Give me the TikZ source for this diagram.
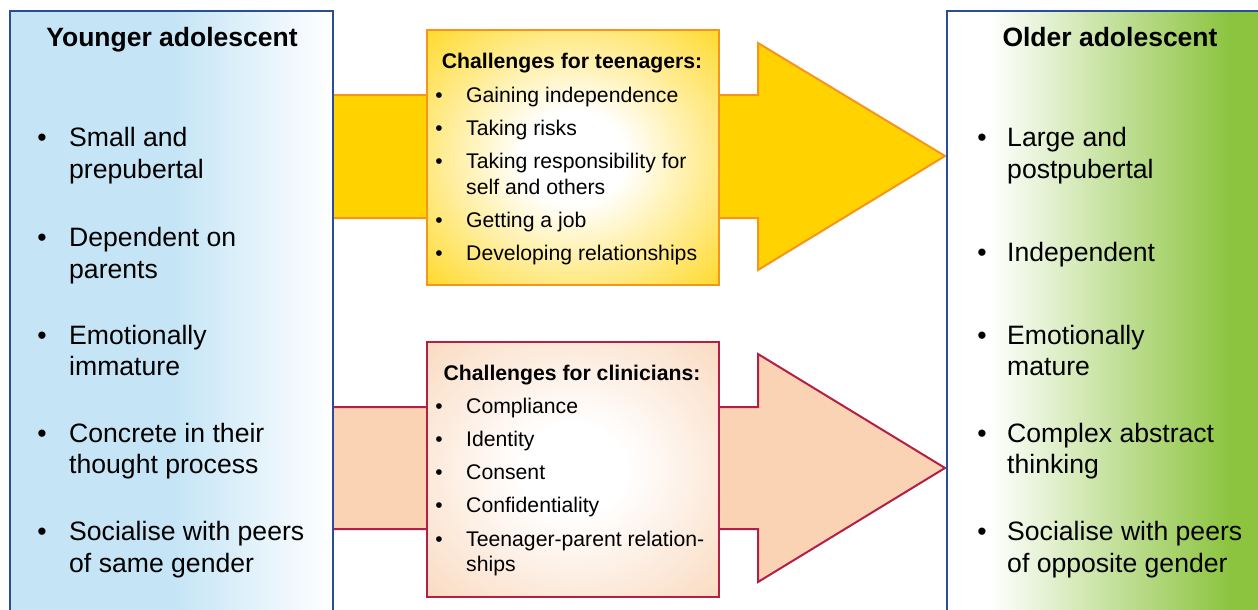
\documentclass[tikz,border=0pt]{standalone}
\usepackage{fontspec}
\setmainfont{Liberation Sans}
\definecolor{panelblue}{HTML}{C5E5F6}
\definecolor{panelborder}{HTML}{2B4C9A}
\definecolor{oldgreen}{HTML}{8CC43F}
\definecolor{arrowgold}{HTML}{FFD200}
\definecolor{goldline}{HTML}{F7941E}
\definecolor{peach}{HTML}{F9D3B4}
\definecolor{crimson}{HTML}{B41F45}
\pgfdeclareradialshading{glowgold}{\pgfpoint{0bp}{0bp}}{color(0bp)=(white); color(9bp)=(white); color(41bp)=(arrowgold); color(50bp)=(arrowgold)}
\pgfdeclareradialshading{glowpeach}{\pgfpoint{0bp}{0bp}}{color(0bp)=(white); color(9bp)=(white); color(41bp)=(peach); color(50bp)=(peach)}
\begin{document}
\begin{tikzpicture}[x=1pt,y=-1pt,
  bigtxt/.style={font=\fontsize{26.6}{32}\selectfont, inner sep=0pt, anchor=base west},
  bigbul/.style={font=\fontsize{26.6}{32}\selectfont, inner sep=0pt, anchor=base},
  ttl/.style={font=\bfseries\fontsize{26.5}{32}\selectfont, inner sep=0pt, anchor=base},
  smtxt/.style={font=\fontsize{21.2}{26}\selectfont, inner sep=0pt, anchor=base west},
  smbul/.style={font=\fontsize{21}{26}\selectfont, inner sep=0pt, anchor=base},
  smttl/.style={font=\bfseries\fontsize{21.2}{26}\selectfont, inner sep=0pt, anchor=base},
  tarrow/.style={fill=arrowgold, draw=goldline, line width=2pt, line join=miter},
  carrow/.style={fill=peach, draw=crimson, line width=2pt, line join=miter},
  tbox/.style={shading=glowgold, draw=goldline, line width=2pt, inner sep=0pt, anchor=north west, minimum width=292pt, minimum height=255pt},
  cbox/.style={shading=glowpeach, draw=crimson, line width=2pt, inner sep=0pt, anchor=north west, minimum width=292pt, minimum height=255pt},
  border/.style={draw=panelborder, line width=2.5pt}
]
\clip (0,0) rectangle (1258,610);
\fill[white] (0,0) rectangle (1258,610);
% left panel fill
\fill[panelblue] (10,11) rectangle (175,640);
\shade[left color=panelblue, right color=white] (175,11) rectangle (333,640);
% right panel fill
\fill[white] (947,11) rectangle (990,640);
\shade[left color=white, right color=oldgreen] (990,11) rectangle (1230,640);
\fill[oldgreen] (1230,11) rectangle (1270,640);
% arrows
\filldraw[tarrow] (333,95) -- (758,95) -- (758,43) -- (945,156) -- (758,270) -- (758,218) -- (333,218);
\filldraw[carrow] (333,407) -- (758,407) -- (758,354) -- (945,468) -- (758,582) -- (758,529) -- (333,529);
% boxes
\node[tbox] (tb) at (426,29) {};
\node[cbox] (cb) at (426,341) {};
% panel borders
\draw[border] (10,640) -- (10,11) -- (333,11) -- (333,640);
\draw[border] (947,640) -- (947,11) -- (1270,11);
% titles
\node[ttl] (ytitle) at (172,47) {Younger adolescent};
\node[ttl] (otitle) at (1110,47) {Older adolescent};
% left items
\node[bigbul] (lb1) at (42,146) {•};
\node[bigtxt] (l1a) at (69,146) {Small and};
\node[bigtxt] (l1b) at (69,178) {prepubertal};
\node[bigbul] (lb2) at (42,246) {•};
\node[bigtxt] (l2a) at (69,246) {Dependent on};
\node[bigtxt] (l2b) at (69,278) {parents};
\node[bigbul] (lb3) at (42,344) {•};
\node[bigtxt] (l3a) at (69,344) {Emotionally};
\node[bigtxt] (l3b) at (69,375) {immature};
\node[bigbul] (lb4) at (42,442) {•};
\node[bigtxt] (l4a) at (69,442) {Concrete in their};
\node[bigtxt] (l4b) at (69,473) {thought process};
\node[bigbul] (lb5) at (42,540) {•};
\node[bigtxt] (l5a) at (69,540) {Socialise with peers};
\node[bigtxt] (l5b) at (69,572) {of same gender};
% right items
\node[bigbul] (rb1) at (982,146) {•};
\node[bigtxt] (r1a) at (1007,146) {Large and};
\node[bigtxt] (r1b) at (1007,178) {postpubertal};
\node[bigbul] (rb2) at (982,261) {•};
\node[bigtxt] (r2a) at (1007,261) {Independent};
\node[bigbul] (rb3) at (982,344) {•};
\node[bigtxt] (r3a) at (1007,344) {Emotionally};
\node[bigtxt] (r3b) at (1007,375) {mature};
\node[bigbul] (rb4) at (982,442) {•};
\node[bigtxt] (r4a) at (1007,442) {Complex abstract};
\node[bigtxt] (r4b) at (1007,473) {thinking};
\node[bigbul] (rb5) at (982,540) {•};
\node[bigtxt] (r5a) at (1007,540) {Socialise with peers};
\node[bigtxt] (r5b) at (1007,572) {of opposite gender};
% top box text
\node[smttl] (tt) at (572,69) {Challenges for teenagers:};
\node[smbul] (tb1) at (439,102) {•};
\node[smtxt] (t1) at (466,102) {Gaining independence};
\node[smbul] (tb2) at (439,135) {•};
\node[smtxt] (t2) at (466,135) {Taking risks};
\node[smbul] (tb3) at (439,168) {•};
\node[smtxt] (t3a) at (466,168) {Taking responsibility for};
\node[smtxt] (t3b) at (466,194) {self and others};
\node[smbul] (tb4) at (439,227) {•};
\node[smtxt] (t4) at (466,227) {Getting a job};
\node[smbul] (tb5) at (439,260) {•};
\node[smtxt] (t5) at (466,260) {Developing relationships};
% bottom box text
\node[smttl] (ct) at (572,380) {Challenges for clinicians:};
\node[smbul] (cb1) at (439,413) {•};
\node[smtxt] (c1) at (466,413) {Compliance};
\node[smbul] (cb2) at (439,446) {•};
\node[smtxt] (c2) at (466,446) {Identity};
\node[smbul] (cb3) at (439,479) {•};
\node[smtxt] (c3) at (466,479) {Consent};
\node[smbul] (cb4) at (439,512) {•};
\node[smtxt] (c4) at (466,512) {Confidentiality};
\node[smbul] (cb5) at (439,546) {•};
\node[smtxt] (c5a) at (466,546) {Teenager-parent relation-};
\node[smtxt] (c5b) at (466,571) {ships};
\end{tikzpicture}
\end{document}
